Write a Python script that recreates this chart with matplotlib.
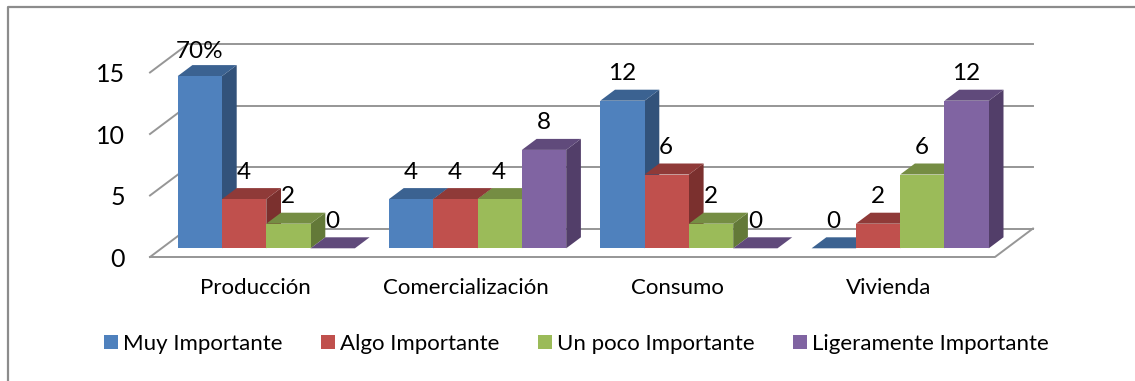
import matplotlib
matplotlib.use("Agg")
import matplotlib.pyplot as plt
from matplotlib.lines import Line2D
from matplotlib.patches import Patch, Polygon

plt.rcParams['font.family'] = ['Lato', 'DejaVu Sans']

categories = ["Producción", "Comercialización", "Consumo", "Vivienda"]
series_names = ["Muy Importante", "Algo Importante", "Un poco Importante", "Ligeramente Importante"]
muy = [14, 4, 12, 0]
algo = [4, 4, 6, 2]
poco = [2, 4, 2, 6]
ligera = [0, 8, 0, 12]
labels_muy = ["70%", "4", "12", "0"]
labels_algo = ["4", "4", "6", "2"]
labels_poco = ["2", "4", "2", "6"]
labels_ligera = ["0", "8", "0", "12"]
y_ticks = [0, 5, 10, 15]

front = ["#4F81BD", "#C0504D", "#9BBB59", "#8064A2"]
top = ["#3B6291", "#8F3A38", "#758D43", "#604A7B"]
side = ["#32527A", "#7B302E", "#637938", "#523E69"]
grid_c = "#969696"

W, H = 1135, 381
fig = plt.figure(figsize=(W / 100, H / 100), dpi=100)
ax = fig.add_axes([0, 0, 1, 1])
ax.axis("off")

PX_X = 211.3  # pixels per category
PX_Y = 12.3   # pixels per unit
X0, Y0 = 266.3, 248.3
ax.set_xlim(-X0 / PX_X, (W - X0) / PX_X)
ax.set_ylim((Y0 - H) / PX_Y, Y0 / PX_Y)

bw = 44.3 / PX_X
bdx, bdy = 14.7 / PX_X, 11 / PX_Y      # bar depth
fl_y = -8.7 / PX_Y                      # floor front level
gdx, gdy = 38 / PX_X, 28.5 / PX_Y       # wall depth
fl_l, fl_r = (150 - X0) / PX_X, (995 - X0) / PX_X

# walls and floor
for t in y_ticks:
    y = fl_y + t
    ax.add_line(Line2D([fl_l, fl_l + gdx], [y, y + gdy], color=grid_c, lw=1.4, zorder=1))
    ax.add_line(Line2D([fl_l + gdx, fl_r + gdx], [y + gdy, y + gdy], color=grid_c, lw=1.4, zorder=1))
    ax.text(fl_l - 25 / PX_X, y - 2 / PX_Y, str(t), ha="right", va="center", fontsize=18, color="black")
ax.add_line(Line2D([fl_l, fl_r, fl_r + gdx], [fl_y, fl_y, fl_y + gdy], color=grid_c, lw=1.4, zorder=1))

series = [muy, algo, poco, ligera]
series_labels = [labels_muy, labels_algo, labels_poco, labels_ligera]
z = 2
for g in range(len(categories)):
    for s, vals in enumerate(series):
        v = vals[g]
        x = g + (s - 1.5) * bw
        l, r = x - bw / 2, x + bw / 2
        ax.add_patch(Polygon([(r, 0), (r + bdx, bdy), (r + bdx, v + bdy), (r, v)], fc=side[s], ec="none", zorder=z))
        ax.add_patch(Polygon([(l, v), (l + bdx, v + bdy), (r + bdx, v + bdy), (r, v)], fc=top[s], ec="none", zorder=z))
        ax.bar(x, v, width=bw, color=front[s], linewidth=0, zorder=z + 0.5)
        txt = series_labels[s][g]
        off = 25 if txt.endswith("%") else 27
        ax.text(x - 0.5 / PX_X, v + off / PX_Y, txt, ha="center", va="center",
                fontsize=17.5, color="black", zorder=50)
        z += 1

for g, name in enumerate(categories):
    ax.text(g - 11.3 / PX_X, fl_y - 31 / PX_Y, name, ha="center", va="center", fontsize=16, color="black")

# outer frame
fig.add_artist(Line2D([8 / W, 8 / W, 1], [0, 1 - 6.5 / H, 1 - 6.5 / H], color="#8C8C8C", lw=1.6))

handles = [Patch(fc=c, ec="none") for c in front]
ax.legend(handles, series_names, ncol=4, frameon=False, loc="center left",
          bbox_to_anchor=(104 / W, 1 - 344 / H), bbox_transform=fig.transFigure,
          fontsize=16, handlelength=0.63, handleheight=0.63, handletextpad=0.23,
          columnspacing=1.72, borderpad=0, borderaxespad=0)

fig.savefig("out.png", dpi=100)
